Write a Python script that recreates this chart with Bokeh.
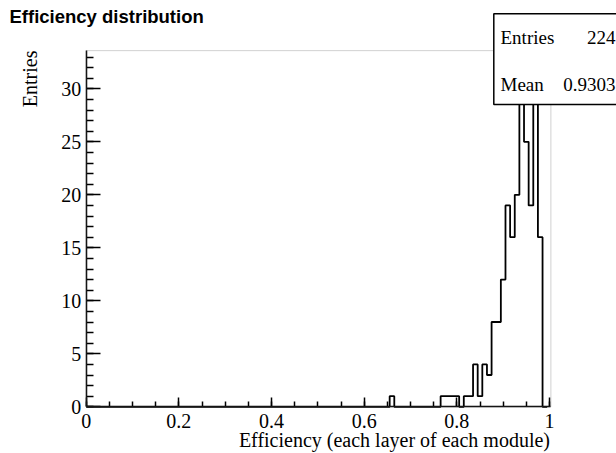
import numpy as np
from bokeh.plotting import figure
from bokeh.models import Range1d, SingleIntervalTicker, CustomJSTickFormatter, Label, BoxAnnotation
from bokeh.embed import file_html
from bokeh.resources import INLINE

# ---------------- data ----------------
title_text = "Efficiency distribution"
x_title = "Efficiency (each layer of each module)"
y_title = "Entries"

bin_width = 0.01
bin_centers = [0.66, 0.77, 0.78, 0.79, 0.80, 0.82, 0.83, 0.84, 0.85, 0.86, 0.87,
               0.88, 0.89, 0.90, 0.91, 0.92, 0.93, 0.94, 0.95, 0.96, 0.97, 0.98]
bin_counts = [1, 1, 1, 1, 1, 1, 1, 4, 1, 4, 3,
              8, 8, 12, 19, 16, 20, 30, 25, 19, 32, 16]

stat_names = ["Entries", "Mean"]
stat_values = ["224", "0.9303"]

x_tick_interval = 0.2
y_tick_interval = 5

# ---------------- geometry (pixels of the canvas) ----------------
W, H = 616, 453
frame_left_px = 85.7      # canvas x of x=0
axis_bottom_px = 406.3    # canvas y (from top) of y=0
px_per_x = 463.3
px_per_y = 10.6
text_shift = 6.3          # label baseline correction

x_root_max = 1.003
y_root_max = 1.05 * max(bin_counts)

x_start = -frame_left_px / px_per_x
x_end = (W - frame_left_px) / px_per_x
y_start = -(H - axis_bottom_px) / px_per_y
y_end = axis_bottom_px / px_per_y

# ---------------- histogram outline ----------------
n_bins = 100
all_centers = np.round(np.arange(n_bins) * bin_width, 2)
all_counts = np.zeros(n_bins)
for c, n in zip(bin_centers, bin_counts):
    all_counts[int(round(c / bin_width))] = n
edges = np.append(all_centers - bin_width / 2, all_centers[-1] + bin_width / 2)
edges = np.clip(edges, 0, x_root_max)
step_y = np.append(all_counts, all_counts[-1])

p = figure(width=W, height=H, output_backend="svg", toolbar_location=None,
           title=None,
           x_range=Range1d(x_start, x_end), y_range=Range1d(y_start, y_end),
           min_border_left=0, min_border_right=0,
           min_border_top=0, min_border_bottom=0)
p.background_fill_color = "white"
p.border_fill_color = "white"
p.outline_line_color = None
p.xgrid.visible = False
p.ygrid.visible = False

p.step(edges, step_y, mode="after", line_color="black", line_width=1.8)

# ROOT frame (top & right edges visible)
p.add_layout(BoxAnnotation(left=0, right=x_root_max, bottom=0, top=y_root_max,
                           fill_color=None, line_color="#666666", line_width=1))

# ---------------- axes ----------------
p.xaxis.fixed_location = 0
p.yaxis.fixed_location = 0
p.xaxis.bounds = (0, x_root_max)
p.yaxis.bounds = (0, y_root_max)
p.xaxis.ticker = SingleIntervalTicker(interval=x_tick_interval, num_minor_ticks=4)
p.yaxis.ticker = SingleIntervalTicker(interval=y_tick_interval, num_minor_ticks=5)
p.xaxis.formatter = CustomJSTickFormatter(code="return String(Math.round(tick*10)/10);")
for ax in (p.xaxis[0], p.yaxis[0]):
    ax.axis_line_color = "black"
    ax.axis_line_width = 1.5
    ax.major_tick_line_color = "black"
    ax.major_tick_line_width = 1.5
    ax.minor_tick_line_color = "black"
    ax.minor_tick_line_width = 1.5
    ax.major_tick_out = 0
    ax.minor_tick_out = 0
    ax.major_label_text_font = "Liberation Serif"
    ax.major_label_text_font_size = "20px"
    ax.major_label_text_color = "black"
p.xaxis.major_tick_in = 9
p.xaxis.minor_tick_in = 5
p.yaxis.major_tick_in = 14
p.yaxis.minor_tick_in = 7
p.xaxis.major_label_standoff = 7
p.yaxis.major_label_standoff = 5

# ---------------- texts (canvas pixels, y measured up from the bottom) ----------------
p.add_layout(Label(x=9, y=H - 22.7 + text_shift, x_units="screen", y_units="screen",
                   text=title_text, text_font="Liberation Sans", text_font_style="bold",
                   text_font_size="18.5px", text_color="black",
                   text_align="left", text_baseline="alphabetic"))
p.add_layout(Label(x=35.5 - text_shift, y=H - 50, x_units="screen", y_units="screen",
                   angle=np.pi / 2, text=y_title, text_font="Liberation Serif",
                   text_font_size="20px", text_color="black",
                   text_align="right", text_baseline="alphabetic"))
p.add_layout(Label(x=549.5, y=H - 445.7 + text_shift, x_units="screen", y_units="screen",
                   text=x_title, text_font="Liberation Serif",
                   text_font_size="20px", text_color="black",
                   text_align="right", text_baseline="alphabetic"))

# ---------------- stats box ----------------
p.add_layout(BoxAnnotation(left=493.3, right=W + 20, top=H - 13.3, bottom=H - 104,
                           left_units="screen", right_units="screen",
                           top_units="screen", bottom_units="screen",
                           fill_color="white", fill_alpha=1.0,
                           line_color="black", line_width=1.5, line_alpha=1.0))
stat_baselines = [H - 43.3 + text_shift, H - 90.7 + text_shift]
for name, val, yy in zip(stat_names, stat_values, stat_baselines):
    p.add_layout(Label(x=500, y=yy, x_units="screen", y_units="screen",
                       text=name, text_font="Liberation Serif", text_font_size="19px",
                       text_color="black", text_align="left", text_baseline="alphabetic"))
    p.add_layout(Label(x=615, y=yy, x_units="screen", y_units="screen",
                       text=val, text_font="Liberation Serif", text_font_size="19px",
                       text_color="black", text_align="right", text_baseline="alphabetic"))

open("out.html", "w").write(file_html(p, INLINE))
